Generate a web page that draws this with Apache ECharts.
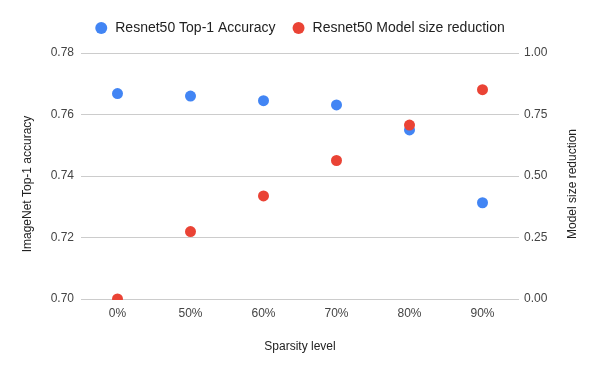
<!DOCTYPE html>
<html><head><meta charset="utf-8">
<script src="https://cdn.jsdelivr.net/npm/echarts@6/dist/echarts.min.js"></script>
<style>html,body{margin:0;padding:0;background:#fff}#c{width:600px;height:371px}</style>
</head><body><div id="c"></div>
<script>
const categories = ['0%', '50%', '60%', '70%', '80%', '90%'];
const top1Accuracy = [0.7668, 0.7660, 0.7645, 0.7631, 0.7550, 0.7313];
const sizeReduction = [0.00, 0.274, 0.419, 0.563, 0.707, 0.851];
const leftTicks = [0.70, 0.72, 0.74, 0.76, 0.78];
const rightTicks = [0.00, 0.25, 0.50, 0.75, 1.00];

const font = 'Liberation Sans, Arial, sans-serif';
const chart = echarts.init(document.getElementById('c'), null, {renderer: 'canvas'});
chart.setOption({
  animation: false,
  backgroundColor: '#fff',
  textStyle: {fontFamily: font},
  legend: {
    top: 16, left: 'center', icon: 'circle', itemWidth: 12, itemHeight: 12, itemGap: 17,
    textStyle: {fontSize: 14, color: '#222', fontFamily: font, padding: [0, 0, 0, 3]},
    data: ['Resnet50 Top-1 Accuracy', 'Resnet50 Model size reduction']
  },
  grid: {left: 81, right: 81, top: 53, bottom: 72},
  graphic: [{
    type: 'rect', left: 81, top: 300, z: 100,
    shape: {width: 438, height: 7}, style: {fill: '#fff'}
  }],
  xAxis: {
    type: 'category', data: categories, boundaryGap: true,
    name: 'Sparsity level', nameLocation: 'middle', nameGap: 42,
    nameTextStyle: {fontSize: 12, color: '#222', fontFamily: font},
    axisLine: {show: false}, axisTick: {show: false},
    axisLabel: {fontSize: 12, color: '#444', margin: 9, fontFamily: font}
  },
  yAxis: [{
    type: 'value', min: leftTicks[0], max: leftTicks[leftTicks.length - 1], interval: 0.02,
    name: 'ImageNet Top-1 accuracy', nameLocation: 'middle', nameGap: 47,
    nameTextStyle: {fontSize: 12, color: '#222', fontFamily: font, padding: [0, 16, 0, 0]},
    axisLine: {show: false}, axisTick: {show: false},
    axisLabel: {fontSize: 12, color: '#444', margin: 7, fontFamily: font, padding: [4, 0, 0, 0], formatter: v => v.toFixed(2)},
    splitLine: {lineStyle: {color: '#cccccc', width: 1}}
  }, {
    type: 'value', min: rightTicks[0], max: rightTicks[rightTicks.length - 1], interval: 0.25,
    name: 'Model size reduction', nameLocation: 'middle', nameGap: 48,
    nameTextStyle: {fontSize: 12, color: '#222', fontFamily: font, padding: [0, 16, 0, 0]},
    axisLine: {show: false}, axisTick: {show: false},
    axisLabel: {fontSize: 12, color: '#444', margin: 5, fontFamily: font, padding: [4, 0, 0, 0], formatter: v => v.toFixed(2)},
    splitLine: {show: false}
  }],
  series: [{
    name: 'Resnet50 Top-1 Accuracy', type: 'scatter', yAxisIndex: 0,
    data: top1Accuracy, symbolSize: 11, itemStyle: {color: '#4285F4', opacity: 1}, z: 2
  }, {
    name: 'Resnet50 Model size reduction', type: 'scatter', yAxisIndex: 1,
    data: sizeReduction, symbolSize: 11, itemStyle: {color: '#EA4335', opacity: 1}, z: 3
  }]
});
</script></body></html>
